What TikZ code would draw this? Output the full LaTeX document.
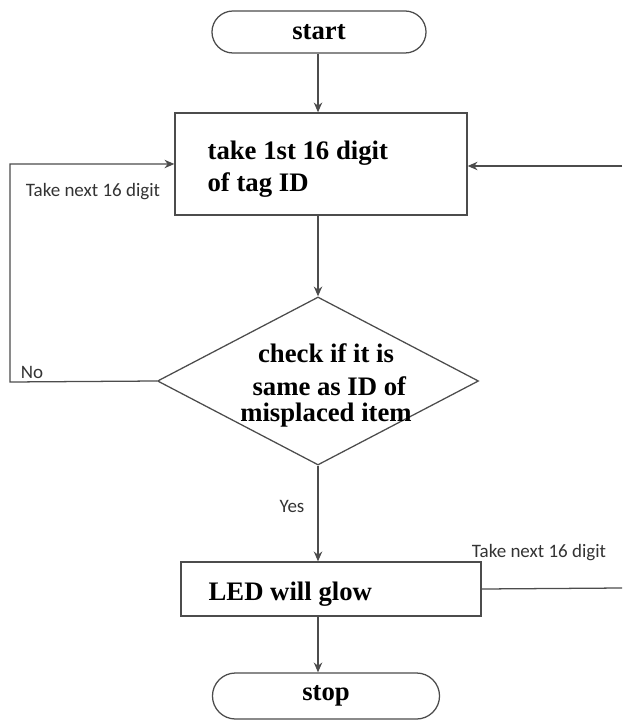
\documentclass[tikz,border=0pt]{standalone}
\usepackage{fontspec}
\setmainfont{Liberation Serif}
\newfontfamily\labelfont{Carlito}
\usetikzlibrary{shapes.geometric,arrows.meta}
\begin{document}
\begin{tikzpicture}[x=0.025cm, y=-0.025cm, >={Stealth[length=7pt,width=6pt]},
    line width=0.9pt, color=black!70,
    terminal/.style={draw, text=black, font=\fontsize{19}{23}\selectfont\bfseries},
    procbox/.style={draw, rectangle},
    boxtext/.style={anchor=west, inner sep=0pt, align=left, text=black, font=\fontsize{19}{23}\selectfont\bfseries},
    decision/.style={draw, diamond, inner sep=0pt},
    lbl/.style={text=black!80, inner sep=0pt, font=\labelfont\fontsize{13.5}{16}\selectfont}]
    \useasboundingbox (0,0) rectangle (622,720);

    % start / stop
    \node[terminal, rounded corners=0.525cm, minimum width=5.35cm, minimum height=1.05cm] (start) at (319,32) {start};
    \node[terminal, rounded corners=0.575cm, minimum width=5.675cm, minimum height=1.15cm] (stop) at (326,696) {stop};

    % read the tag
    \node[procbox, minimum width=7.3cm, minimum height=2.55cm] (takeid) at (321,164) {};
    \node[boxtext] (takeidtext) at (207,169) {take 1st 16 digit\\of tag ID};

    % compare with the item
    \node[decision, minimum width=8.025cm, minimum height=4.2cm] (check) at (318,381) {};
    \node[align=center, text=black, font=\fontsize{19}{23}\selectfont\bfseries] (checktext) at (326,385)
        {check if it is\\[1pt] \ same as ID of\\[-5pt]misplaced item};

    % LED
    \node[procbox, minimum width=7.5cm, minimum height=1.35cm] (led) at (331,589) {};
    \node[boxtext] (ledtext) at (208,594) {LED will glow};

    % labels
    \node[lbl] (nextleft) at (93,192) {Take next 16 digit};
    \node[lbl] (nolbl) at (32,372) {No};
    \node[lbl] (yeslbl) at (292,506) {Yes};
    \node[lbl] (nextright) at (539,553) {Take next 16 digit};

    \coordinate (lcorner) at (10,382);
    \coordinate (rtop) at (622,166);
    \coordinate (rbot) at (622,588);

    % main line
    \draw[->] (start.south -| check) -- (takeid.north -| check);
    \draw[->] (takeid.south -| check) -- (check.north);
    \draw[->] (check.south) -- (led.north -| check);
    \draw[->] (led.south -| check) -- (stop.north -| check);

    % loops back
    \draw[->] (check.west) -- (lcorner) |- (takeid.west);
    \draw[->] (rtop) -- (rtop -| takeid.east);
    \draw (led.east) -- (rbot);
\end{tikzpicture}
\end{document}
